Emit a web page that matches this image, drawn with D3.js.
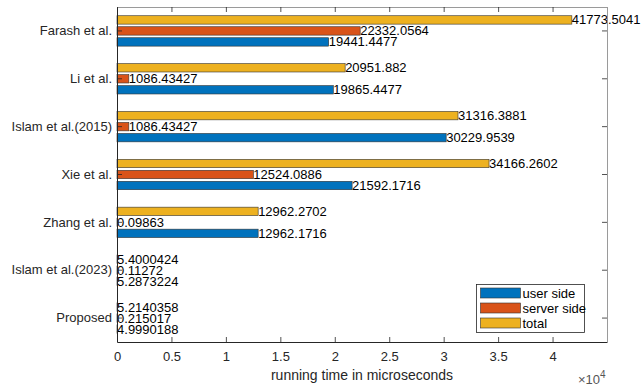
<!DOCTYPE html>
<html>
<head>
<meta charset="utf-8">
<script src="https://cdn.jsdelivr.net/npm/d3@7"></script>
<style>
  body { margin: 0; background: #fff; }
  text { font-family: "Liberation Sans", Arial, sans-serif; fill: #262626; }
</style>
</head>
<body>
<div id="chart"></div>
<script>
// data
const schemes = ["Farash et al.", "Li et al.", "Islam et al.(2015)", "Xie et al.", "Zhang et al.", "Islam et al.(2023)", "Proposed"];
const userSide = [19441.4477, 19865.4477, 30229.9539, 21592.1716, 12962.1716, 5.2873224, 4.9990188];
const serverSide = [22332.0564, 1086.43427, 1086.43427, 12524.0886, 0.09863, 0.11272, 0.215017];
const totalTime = [41773.5041, 20951.882, 31316.3881, 34166.2602, 12962.2702, 5.4000424, 5.2140358];
const userLabels = ["19441.4477", "19865.4477", "30229.9539", "21592.1716", "12962.1716", "5.2873224", "4.9990188"];
const serverLabels = ["22332.0564", "1086.43427", "1086.43427", "12524.0886", "0.09863", "0.11272", "0.215017"];
const totalLabels = ["41773.5041", "20951.882", "31316.3881", "34166.2602", "12962.2702", "5.4000424", "5.2140358"];
const xTicks = [0, 5000, 10000, 15000, 20000, 25000, 30000, 35000, 40000];

const series = [
    { name: "total", values: totalTime, labels: totalLabels, color: "#EDB120", offset: -11 },
    { name: "server side", values: serverSide, labels: serverLabels, color: "#D95319", offset: 0 },
    { name: "user side", values: userSide, labels: userLabels, color: "#0072BD", offset: 11 }
];

const W = 641, H = 387;
const margin = { top: 7, right: 34, bottom: 45, left: 117 };
const width = W - margin.left - margin.right;
const height = H - margin.top - margin.bottom;

const svg = d3.select("#chart").append("svg")
    .attr("width", W)
    .attr("height", H);

const g = svg.append("g")
    .attr("transform", "translate(" + margin.left + "," + margin.top + ")");

const x = d3.scaleLinear().domain([0, 45000]).range([0, width]);
const y = d3.scaleBand().domain(schemes).range([0, height]).padding(0);
const barH = 8.4;

// bars and value labels
series.forEach(s => {
    const rows = schemes.map((c, i) => ({ cat: c, v: s.values[i], lab: s.labels[i] }));
    g.selectAll(".bar-" + s.name.replace(" ", ""))
        .data(rows)
        .enter().append("rect")
        .attr("x", x(0))
        .attr("y", d => y(d.cat) + y.bandwidth() / 2 + s.offset - barH / 2)
        .attr("width", d => x(d.v) - x(0))
        .attr("height", barH)
        .attr("fill", s.color)
        .attr("stroke", "#333")
        .attr("stroke-width", 0.6);

    g.selectAll(".lab-" + s.name.replace(" ", ""))
        .data(rows)
        .enter().append("text")
        .attr("x", d => x(d.v))
        .attr("y", d => y(d.cat) + y.bandwidth() / 2 + s.offset)
        .attr("dy", "0.35em")
        .style("font-size", "13px")
        .style("fill", "#000")
        .text(d => d.lab);
});

// box (top/right lighter)
g.append("line").attr("x1", 0).attr("x2", width).attr("y1", 0.5).attr("y2", 0.5)
    .attr("stroke", "#9a9a9a");
g.append("line").attr("x1", width + 0.5).attr("x2", width + 0.5).attr("y1", 0).attr("y2", height)
    .attr("stroke", "#9a9a9a");

// x axis with inward ticks
const xAxis = d3.axisBottom(x).tickValues(xTicks).tickSize(0).tickPadding(10)
    .tickFormat(d => d3.format("")(d / 10000));
const xg = g.append("g").attr("transform", "translate(0," + height + ")").call(xAxis);
xg.select(".domain").attr("stroke", "#262626");
xg.selectAll("text").style("font-size", "13px").style("fill", "#262626").attr("font-family", null);

xTicks.forEach(t => {
    g.append("line").attr("x1", x(t) + 0.5).attr("x2", x(t) + 0.5).attr("y1", height).attr("y2", height - 5)
        .attr("stroke", "#262626").attr("stroke-width", 0.8);
    g.append("line").attr("x1", x(t) + 0.5).attr("x2", x(t) + 0.5).attr("y1", 0).attr("y2", 5)
        .attr("stroke", "#262626").attr("stroke-width", 0.8);
});

// y axis
const yAxis = d3.axisLeft(y).tickSize(0).tickPadding(5);
const yg = g.append("g").call(yAxis);
yg.select(".domain").attr("stroke", "#262626");
yg.selectAll("text").style("font-size", "13px").style("fill", "#262626").attr("font-family", null);

schemes.forEach(c => {
    const yy = y(c) + y.bandwidth() / 2;
    g.append("line").attr("x1", 0).attr("x2", 5).attr("y1", yy).attr("y2", yy)
        .attr("stroke", "#262626").attr("stroke-width", 0.8);
    g.append("line").attr("x1", width).attr("x2", width - 5).attr("y1", yy).attr("y2", yy)
        .attr("stroke", "#262626").attr("stroke-width", 0.8);
});

// x axis title and exponent
g.append("text")
    .attr("x", width / 2)
    .attr("y", height + 38)
    .style("text-anchor", "middle")
    .style("font-size", "14px")
    .text("running time in microseconds");

const ex = g.append("text")
    .attr("x", width - 29)
    .attr("y", height + 42)
    .style("font-size", "13px")
    .style("fill", "#555");
ex.append("tspan").text("\u00d710");
ex.append("tspan").attr("dy", -6).style("font-size", "10px").text("4");

// legend
const legend = g.append("g").attr("transform", "translate(" + (476.5 - margin.left) + "," + (284.5 - margin.top) + ")");
legend.append("rect")
    .attr("width", 108).attr("height", 48)
    .attr("fill", "#fff").attr("stroke", "#262626").attr("stroke-width", 0.8);
const legendItems = [series[2], series[1], series[0]];
legendItems.forEach((s, i) => {
    legend.append("rect")
        .attr("x", 4).attr("y", 3.5 + i * 15)
        .attr("width", 40).attr("height", 10)
        .attr("fill", s.color).attr("stroke", "#333").attr("stroke-width", 0.6);
    legend.append("text")
        .attr("x", 46).attr("y", 9 + i * 15)
        .attr("dy", "0.35em")
        .style("font-size", "13px")
        .style("fill", "#000")
        .text(s.name);
});
</script>
</body>
</html>
